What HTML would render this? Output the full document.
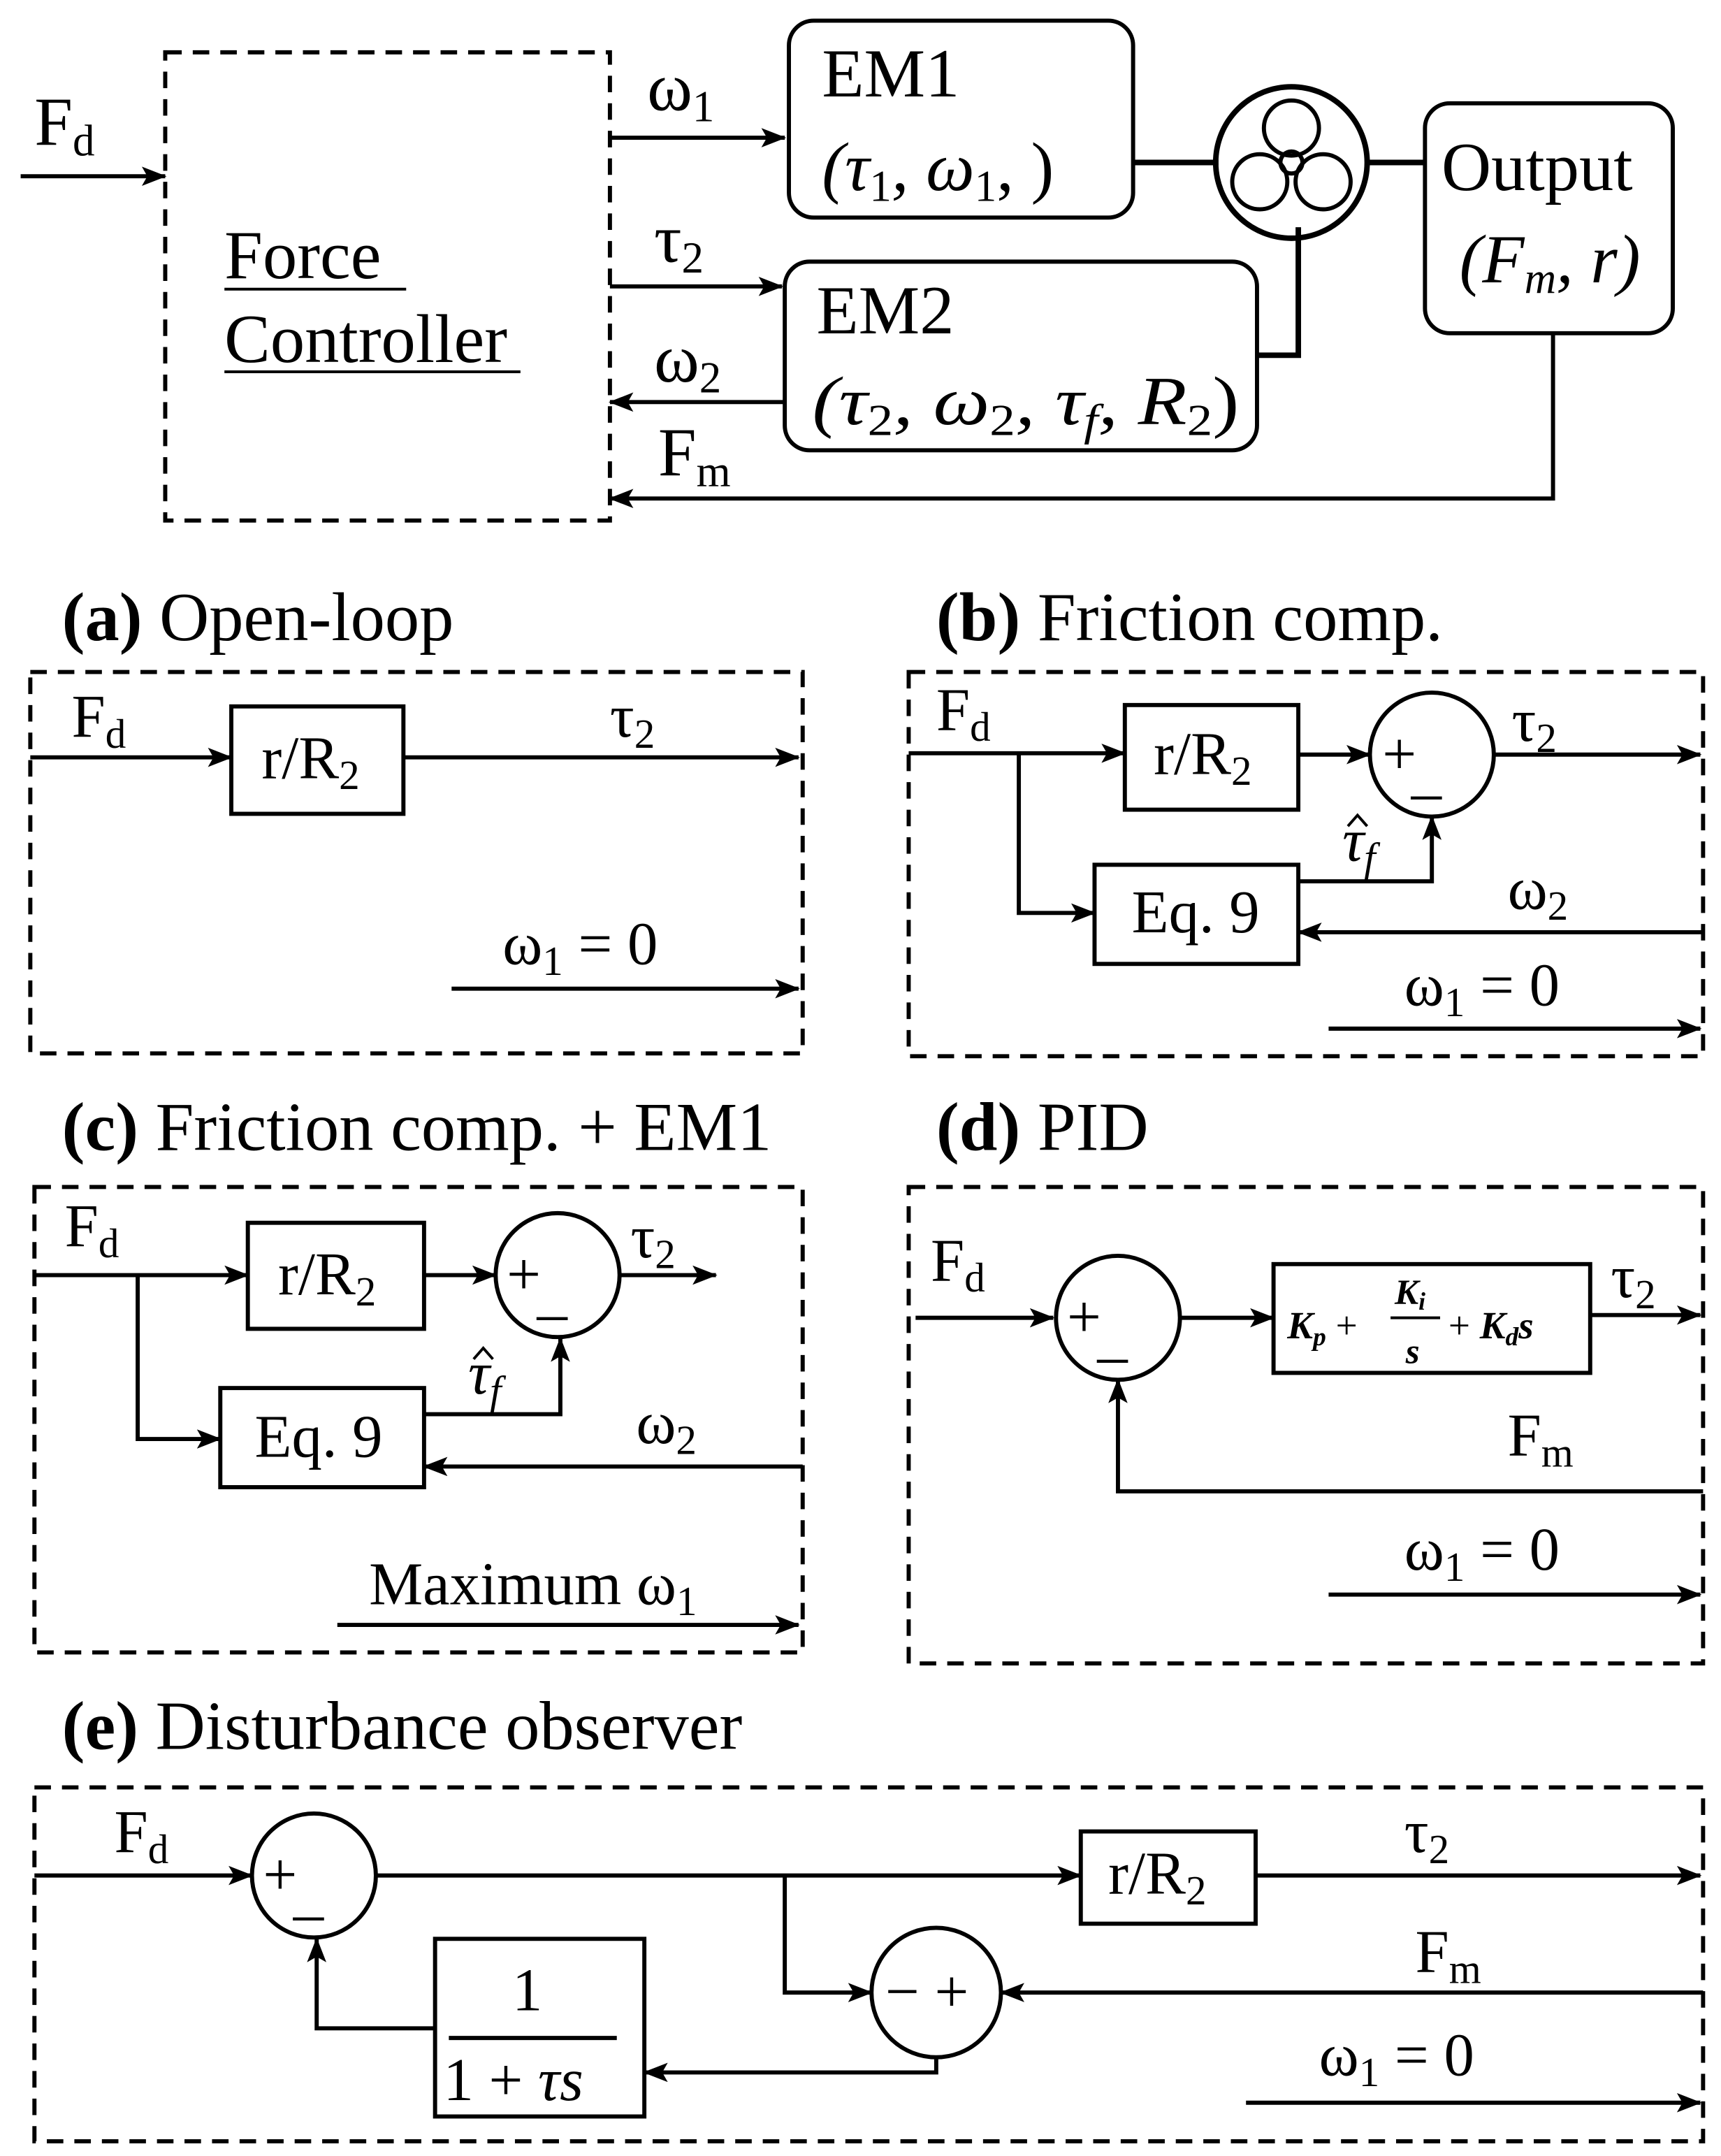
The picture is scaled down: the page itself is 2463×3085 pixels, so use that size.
<!DOCTYPE html>
<html><head><meta charset="utf-8"><style>
html,body{margin:0;padding:0;background:#fff}
svg{display:block}
text{font-family:"Liberation Serif",serif;fill:#000}
</style></head><body>
<svg width="2463" height="3085" viewBox="0 0 1250 1565.7" xmlns="http://www.w3.org/2000/svg">
<defs>
<marker id="b" markerWidth="18" markerHeight="14" refX="17" refY="7" orient="auto" markerUnits="userSpaceOnUse"><path d="M0,0 L18,7 L0,14 L4,7 z" fill="#000"/></marker></defs>
<g stroke="#000" stroke-width="3" fill="none">
<g stroke-dasharray="12,8">
<rect x="120" y="38" width="323" height="340"/>
<rect x="22" y="488" width="561" height="277"/>
<rect x="660" y="488" width="577" height="279"/>
<rect x="25" y="862" width="558" height="338"/>
<rect x="660" y="862" width="577" height="346"/>
<rect x="25" y="1298" width="1212" height="257"/>
</g>
<g marker-end="url(#b)">
<line x1="15" y1="128" x2="120" y2="128"/>
<line x1="443" y1="100" x2="570" y2="100"/>
<line x1="443" y1="208" x2="568" y2="208"/>
<line x1="570" y1="292" x2="443" y2="292"/>
<polyline points="1128,242 1128,362 443,362"/>
<line x1="22" y1="550" x2="168" y2="550"/>
<line x1="293" y1="550" x2="580" y2="550"/>
<line x1="328" y1="718" x2="580" y2="718"/>
<line x1="660" y1="547" x2="817" y2="547"/>
<line x1="943" y1="548" x2="995" y2="548"/>
<line x1="1085" y1="548" x2="1235" y2="548"/>
<polyline points="740,547 740,663 795,663"/>
<polyline points="943,640 1040,640 1040,593"/>
<line x1="1237" y1="677" x2="943" y2="677"/>
<line x1="965" y1="747" x2="1235" y2="747"/>
<line x1="25" y1="926" x2="180" y2="926"/>
<line x1="308" y1="926" x2="360" y2="926"/>
<line x1="450" y1="926" x2="520" y2="926"/>
<polyline points="100,926 100,1045 160,1045"/>
<polyline points="308,1027 407,1027 407,972"/>
<line x1="583" y1="1065" x2="308" y2="1065"/>
<line x1="245" y1="1180" x2="580" y2="1180"/>
<line x1="665" y1="957" x2="765" y2="957"/>
<line x1="857" y1="957" x2="925" y2="957"/>
<line x1="1155" y1="955" x2="1235" y2="955"/>
<polyline points="1237,1083 812,1083 812,1002"/>
<line x1="965" y1="1158" x2="1235" y2="1158"/>
<line x1="25" y1="1362" x2="183" y2="1362"/>
<line x1="273" y1="1362" x2="785" y2="1362"/>
<line x1="912" y1="1362" x2="1235" y2="1362"/>
<line x1="1237" y1="1447" x2="727" y2="1447"/>
<polyline points="570,1362 570,1447 633,1447"/>
<polyline points="680,1494 680,1505 468,1505"/>
<polyline points="316,1473 230,1473 230,1408"/>
<line x1="905" y1="1527" x2="1235" y2="1527"/>
</g>
<rect x="573" y="15" width="250" height="143" rx="18"/>
<rect x="1035" y="75" width="180" height="167" rx="18"/>
<rect x="570" y="190" width="343" height="137" rx="18"/>
<line x1="823" y1="118" x2="885" y2="118" stroke-width="4"/>
<line x1="993" y1="118" x2="1035" y2="118" stroke-width="4"/>
<polyline points="913,258 943,258 943,165" stroke-width="4"/>
<circle cx="938" cy="118" r="55" stroke-width="4"/>
<circle cx="938" cy="93" r="20"/><circle cx="915" cy="132" r="20"/><circle cx="961" cy="132" r="20"/>
<circle cx="938" cy="118" r="8"/>
<rect x="168" y="513" width="125" height="78"/>
<rect x="817" y="512" width="126" height="76"/>
<circle cx="1040" cy="548" r="45"/>
<rect x="795" y="628" width="148" height="72"/>
<rect x="180" y="888" width="128" height="77"/>
<circle cx="405" cy="926" r="45"/>
<rect x="160" y="1008" width="148" height="72"/>
<circle cx="812" cy="957" r="45"/>
<rect x="925" y="918" width="230" height="79"/>
<circle cx="228" cy="1362" r="45"/>
<rect x="785" y="1330" width="127" height="67"/>
<circle cx="680" cy="1447" r="47"/>
<rect x="316" y="1408" width="152" height="129"/>
<line x1="326" y1="1480" x2="448" y2="1480"/>
<line x1="163" y1="210" x2="295" y2="210" stroke-width="2"/>
<line x1="163" y1="270" x2="378" y2="270" stroke-width="2"/>
<polyline points="979,600 986,592 993,600" stroke-width="2"/>
<polyline points="344,987 351,979 358,987" stroke-width="2"/>
</g>
<g font-size="50">
<text x="25" y="105">F<tspan font-size="32" dy="8">d</tspan></text>
<text x="163" y="202">Force</text>
<text x="163" y="263">Controller</text>
<text x="470" y="80">ω<tspan font-size="32" dy="8">1</tspan></text>
<text x="475" y="190">τ<tspan font-size="32" dy="8">2</tspan></text>
<text x="475" y="277">ω<tspan font-size="32" dy="8">2</tspan></text>
<text x="478" y="345">F<tspan font-size="32" dy="8">m</tspan></text>
<text x="597" y="70">EM1</text>
<text x="597" y="138" font-style="italic">(τ<tspan font-size="32" dy="8" font-style="normal">1</tspan><tspan dy="-8">, ω</tspan><tspan font-size="32" dy="8" font-style="normal">1</tspan><tspan dy="-8" font-style="normal">, )</tspan></text>
<text x="593" y="242">EM2</text>
<text x="590" y="308" font-style="italic" textLength="310" lengthAdjust="spacingAndGlyphs">(τ<tspan font-size="32" dy="8" font-style="normal">2</tspan><tspan dy="-8">, ω</tspan><tspan font-size="32" dy="8" font-style="normal">2</tspan><tspan dy="-8">, τ</tspan><tspan font-size="32" dy="8">f</tspan><tspan dy="-8">, R</tspan><tspan font-size="32" dy="8" font-style="normal">2</tspan><tspan dy="-8" font-style="normal">)</tspan></text>
<text x="1047" y="138">Output</text>
<text x="1060" y="205" font-style="italic">(F<tspan font-size="32" dy="8">m</tspan><tspan dy="-8">, r)</tspan></text>
<text x="45" y="465"><tspan font-weight="bold">(a)</tspan> Open-loop</text>
<text x="680" y="465"><tspan font-weight="bold">(b)</tspan> Friction comp.</text>
<text x="45" y="835"><tspan font-weight="bold">(c)</tspan> Friction comp. + EM1</text>
<text x="680" y="835"><tspan font-weight="bold">(d)</tspan> PID</text>
<text x="45" y="1270"><tspan font-weight="bold">(e)</tspan> Disturbance observer</text>
</g>
<g font-size="44">
<text x="52" y="535">F<tspan font-size="30" dy="8">d</tspan></text>
<text x="190" y="565">r/R<tspan font-size="30" dy="8">2</tspan></text>
<text x="443" y="535">τ<tspan font-size="30" dy="8">2</tspan></text>
<text x="365" y="700">ω<tspan font-size="30" dy="8">1</tspan><tspan dy="-8"> = 0</tspan></text>
<text x="680" y="530">F<tspan font-size="30" dy="8">d</tspan></text>
<text x="838" y="562">r/R<tspan font-size="30" dy="8">2</tspan></text>
<text x="1004" y="562">+</text><text x="1025" y="575">_</text>
<text x="1098" y="538">τ<tspan font-size="30" dy="8">2</tspan></text>
<text x="975" y="625" font-style="italic">τ<tspan font-size="30" dy="8">f</tspan></text>
<text x="822" y="677">Eq. 9</text>
<text x="1095" y="660">ω<tspan font-size="30" dy="8">2</tspan></text>
<text x="1020" y="730">ω<tspan font-size="30" dy="8">1</tspan><tspan dy="-8"> = 0</tspan></text>
<text x="47" y="905">F<tspan font-size="30" dy="8">d</tspan></text>
<text x="202" y="940">r/R<tspan font-size="30" dy="8">2</tspan></text>
<text x="368" y="940">+</text><text x="390" y="953">_</text>
<text x="458" y="913">τ<tspan font-size="30" dy="8">2</tspan></text>
<text x="340" y="1012" font-style="italic">τ<tspan font-size="30" dy="8">f</tspan></text>
<text x="185" y="1058">Eq. 9</text>
<text x="462" y="1048">ω<tspan font-size="30" dy="8">2</tspan></text>
<text x="268" y="1165">Maximum ω<tspan font-size="30" dy="8">1</tspan></text>
<text x="676" y="930">F<tspan font-size="30" dy="8">d</tspan></text>
<text x="775" y="971">+</text><text x="797" y="984">_</text>
<text x="935" y="972" font-size="28" font-weight="bold" font-style="italic">K<tspan font-size="19" dy="5">p</tspan><tspan dy="-5" font-style="normal" font-weight="normal"> +</tspan></text>
<text x="1013" y="947" font-size="26" font-weight="bold" font-style="italic">K<tspan font-size="18" dy="4">i</tspan></text>
<line x1="1010" y1="957" x2="1046" y2="957" stroke="#000" stroke-width="2"/>
<text x="1021" y="990" font-size="26" font-weight="bold" font-style="italic">s</text>
<text x="1052" y="972" font-size="28" font-weight="bold" font-style="italic"><tspan font-style="normal" font-weight="normal">+ </tspan>K<tspan font-size="19" dy="5">d</tspan><tspan dy="-5">s</tspan></text>
<text x="1170" y="942">τ<tspan font-size="30" dy="8">2</tspan></text>
<text x="1095" y="1057">F<tspan font-size="30" dy="8">m</tspan></text>
<text x="1020" y="1140">ω<tspan font-size="30" dy="8">1</tspan><tspan dy="-8"> = 0</tspan></text>
<text x="83" y="1345">F<tspan font-size="30" dy="8">d</tspan></text>
<text x="191" y="1376">+</text><text x="213" y="1389">_</text>
<text x="805" y="1375">r/R<tspan font-size="30" dy="8">2</tspan></text>
<text x="1020" y="1345">τ<tspan font-size="30" dy="8">2</tspan></text>
<text x="1028" y="1432">F<tspan font-size="30" dy="8">m</tspan></text>
<text x="643" y="1461">− +</text>
<text x="372" y="1460">1</text>
<text x="322" y="1525">1 + <tspan font-style="italic">τs</tspan></text>
<text x="958" y="1507">ω<tspan font-size="30" dy="8">1</tspan><tspan dy="-8"> = 0</tspan></text>
</g>
</svg>
</body></html>
